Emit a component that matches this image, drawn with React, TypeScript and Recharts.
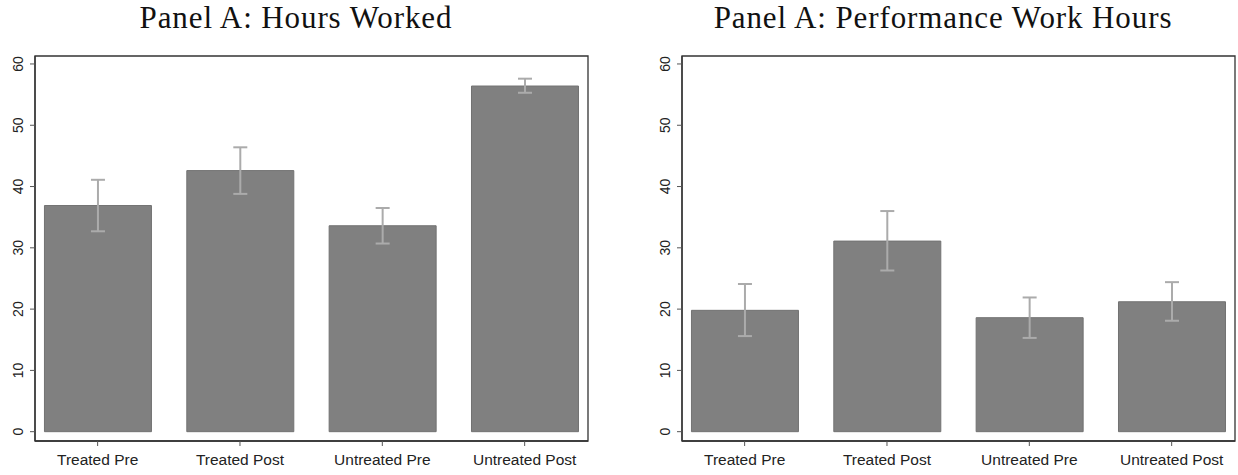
import React from 'react';
import {
  BarChart, Bar, XAxis, YAxis, ErrorBar, ReferenceArea,
} from 'recharts';

const categories = ['Treated Pre', 'Treated Post', 'Untreated Pre', 'Untreated Post'];
const yTicks = [0, 10, 20, 30, 40, 50, 60];

const hoursMean = [36.9, 42.6, 33.6, 56.4];
const hoursLow = [32.7, 38.8, 30.7, 55.3];
const hoursHigh = [41.1, 46.4, 36.5, 57.6];

const perfMean = [19.8, 31.1, 18.6, 21.2];
const perfLow = [15.6, 26.3, 15.3, 18.1];
const perfHigh = [24.1, 36.0, 21.9, 24.4];

const X_DOMAIN: [number, number] = [0.56, 4.445];
const Y_DOMAIN: [number, number] = [-1.52, 61.3];

const build = (mean: number[], low: number[], high: number[]) =>
  categories.map((c, i) => ({
    x: i + 1,
    name: c,
    value: mean[i],
    err: [+(mean[i] - low[i]).toFixed(2), +(high[i] - mean[i]).toFixed(2)],
  }));

const YTick = (props: any) => {
  const { x, y, payload } = props;
  const bx = x - 5;
  return (
    <text
      x={bx}
      y={y}
      transform={`rotate(-90, ${bx}, ${y})`}
      textAnchor="middle"
      fontSize={14}
      fontFamily="'Liberation Sans', Arial, sans-serif"
      fill="#222"
    >
      {payload.value}
    </text>
  );
};

function Panel({ title, data, left, width, titleCenter }: {
  title: string; data: any[]; left: number; width: number; titleCenter: number;
}) {
  return (
    <div style={{ position: 'absolute', left, top: 0, width, height: 475 }}>
      <div
        style={{
          position: 'absolute',
          top: 2,
          left: titleCenter - left - 300,
          width: 600,
          textAlign: 'center',
          fontFamily: "'Liberation Serif', 'Times New Roman', serif",
          fontSize: 31,
          lineHeight: 1,
          letterSpacing: 0.9,
          color: '#111',
          whiteSpace: 'nowrap',
        }}
      >
        {title}
      </div>
      <BarChart
        width={width}
        height={475}
        data={data}
        margin={{ top: 56, right: width - 35 - 553, bottom: 0, left: 0 }}
      >
        <XAxis
          type="number"
          dataKey="x"
          domain={X_DOMAIN}
          allowDataOverflow
          ticks={[1, 2, 3, 4]}
          tickFormatter={(v: number) => categories[v - 1]}
          height={34}
          tickSize={5}
          tickMargin={8}
          tick={{ fontSize: 15.5, fill: '#222', fontFamily: "'Liberation Sans', Arial, sans-serif" }}
          axisLine={{ stroke: '#333', strokeWidth: 1.3 }}
          tickLine={{ stroke: '#555' }}
        />
        <YAxis
          type="number"
          domain={Y_DOMAIN}
          allowDataOverflow
          ticks={yTicks}
          width={35}
          tickSize={5}
          tick={<YTick />}
          axisLine={{ stroke: '#333', strokeWidth: 1.3 }}
          tickLine={{ stroke: '#555' }}
        />
        <ReferenceArea
          x1={X_DOMAIN[0]}
          x2={X_DOMAIN[1]}
          y1={Y_DOMAIN[0]}
          y2={Y_DOMAIN[1]}
          fill="none"
          stroke="#333"
          strokeWidth={1.3}
          ifOverflow="visible"
        />
        <Bar
          dataKey="value"
          barSize={107}
          fill="#808080"
          stroke="#727272"
          strokeWidth={1}
          isAnimationActive={false}
        >
          <ErrorBar dataKey="err" width={7} stroke="#ababab" strokeWidth={2} direction="y" />
        </Bar>
      </BarChart>
    </div>
  );
}

export default function App() {
  const hours = build(hoursMean, hoursLow, hoursHigh);
  const perf = build(perfMean, perfLow, perfHigh);
  return (
    <div style={{ position: 'absolute', left: 0, top: 0, width: 1238, height: 475, background: '#fff' }}>
      <Panel title="Panel A: Hours Worked" data={hours} left={0} width={600} titleCenter={296} />
      <Panel title="Panel A: Performance Work Hours" data={perf} left={647} width={591} titleCenter={943} />
    </div>
  );
}
